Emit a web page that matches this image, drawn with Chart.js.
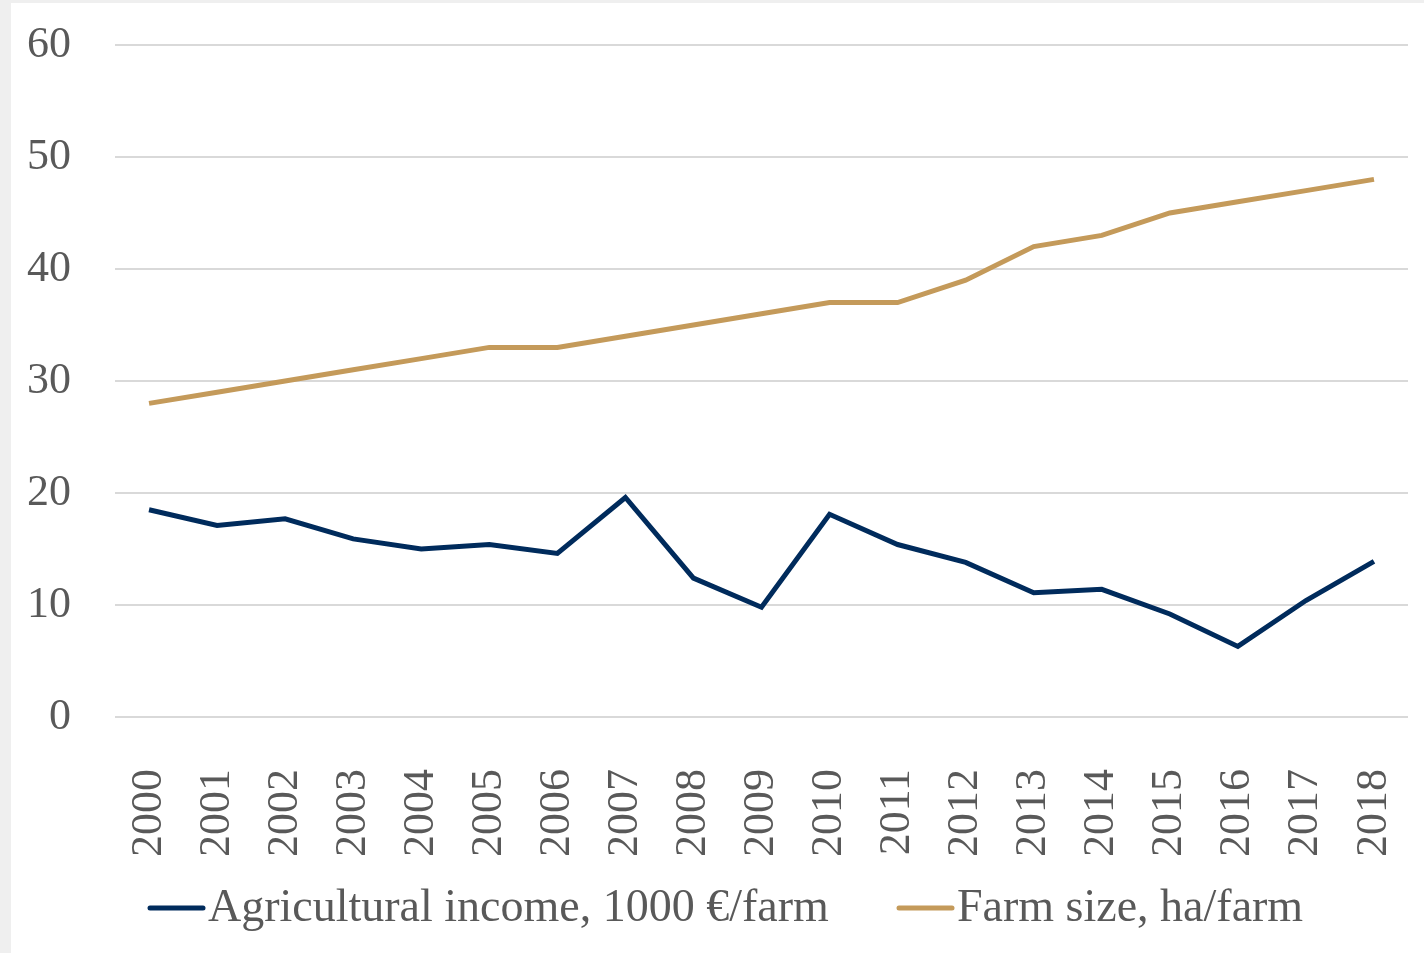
<!DOCTYPE html>
<html>
<head>
<meta charset="utf-8">
<script src="https://cdn.jsdelivr.net/npm/chart.js@4"></script>
<style>
  html, body { margin: 0; padding: 0; background: #efefef; width: 1424px; height: 953px; overflow: hidden; }
  #wrap { position: absolute; left: 11px; top: 3px; width: 1413px; height: 950px; background: #ffffff; }
  canvas { display: block; }
</style>
</head>
<body>
<div id="wrap"><canvas id="c" width="1413" height="950"></canvas></div>
<script>
const years = ["2000","2001","2002","2003","2004","2005","2006","2007","2008","2009","2010","2011","2012","2013","2014","2015","2016","2017","2018"];
const incomeLabel = "Agricultural income, 1000 €/farm";
const incomeValues = [18.5, 17.1, 17.7, 15.9, 15.0, 15.4, 14.6, 19.6, 12.4, 9.8, 18.1, 15.4, 13.8, 11.1, 11.4, 9.2, 6.3, 10.4, 13.9];
const sizeLabel = "Farm size, ha/farm";
const sizeValues = [28, 29, 30, 31, 32, 33, 33, 34, 35, 36, 37, 37, 39, 42, 43, 45, 46, 47, 48];
const yTicks = [0, 10, 20, 30, 40, 50, 60];

const FONT = "'Liberation Serif', 'DejaVu Serif', serif";
const TEXT = '#595959';
const NAVY = '#002b5c';
const TAN = '#c49a5a';

const legendPlugin = {
  id: 'customLegend',
  afterDraw(chart) {
    const ctx = chart.ctx;
    ctx.save();
    ctx.font = "46px " + FONT;
    ctx.fillStyle = TEXT;
    ctx.textBaseline = 'middle';
    const y = 905;
    const items = [
      { x: 137, color: chart.data.datasets[0].borderColor, text: chart.data.datasets[0].label },
      { x: 886, color: chart.data.datasets[1].borderColor, text: chart.data.datasets[1].label }
    ];
    items.forEach(it => {
      ctx.strokeStyle = it.color;
      ctx.lineWidth = 5;
      ctx.lineCap = 'round';
      ctx.beginPath();
      ctx.moveTo(it.x + 2, y);
      ctx.lineTo(it.x + 55, y);
      ctx.stroke();
      ctx.fillText(it.text, it.x + 60, y + 1);
    });
    ctx.restore();
  }
};

new Chart(document.getElementById('c'), {
  type: 'line',
  data: {
    labels: years,
    datasets: [
      { label: incomeLabel, data: incomeValues, borderColor: NAVY, backgroundColor: NAVY, borderWidth: 5, pointRadius: 0, tension: 0, fill: false },
      { label: sizeLabel, data: sizeValues, borderColor: TAN, backgroundColor: TAN, borderWidth: 5, pointRadius: 0, tension: 0, fill: false }
    ]
  },
  options: {
    responsive: false,
    animation: false,
    layout: { padding: { top: 42, right: 16, bottom: 0, left: 0 } },
    plugins: { legend: { display: false }, tooltip: { enabled: false } },
    scales: {
      x: {
        offset: true,
        grid: { display: false, drawTicks: false },
        border: { display: false },
        ticks: { color: TEXT, font: { family: FONT, size: 44 }, maxRotation: 90, minRotation: 90, padding: 52, autoSkip: false },
        afterFit(s) { s.height = 236; s.paddingLeft = 0; s.paddingRight = 0; }
      },
      y: {
        min: 0, max: 60,
        afterBuildTicks(s) { s.ticks = yTicks.map(v => ({ value: v })); },
        grid: { color: '#d9d9d9', lineWidth: 2, drawTicks: false },
        border: { display: false },
        ticks: { color: TEXT, font: { family: FONT, size: 44 }, padding: 44 },
        afterFit(s) { s.width = 104; s.paddingTop = 0; s.paddingBottom = 0; }
      }
    }
  },
  plugins: [legendPlugin]
});
</script>
</body>
</html>
